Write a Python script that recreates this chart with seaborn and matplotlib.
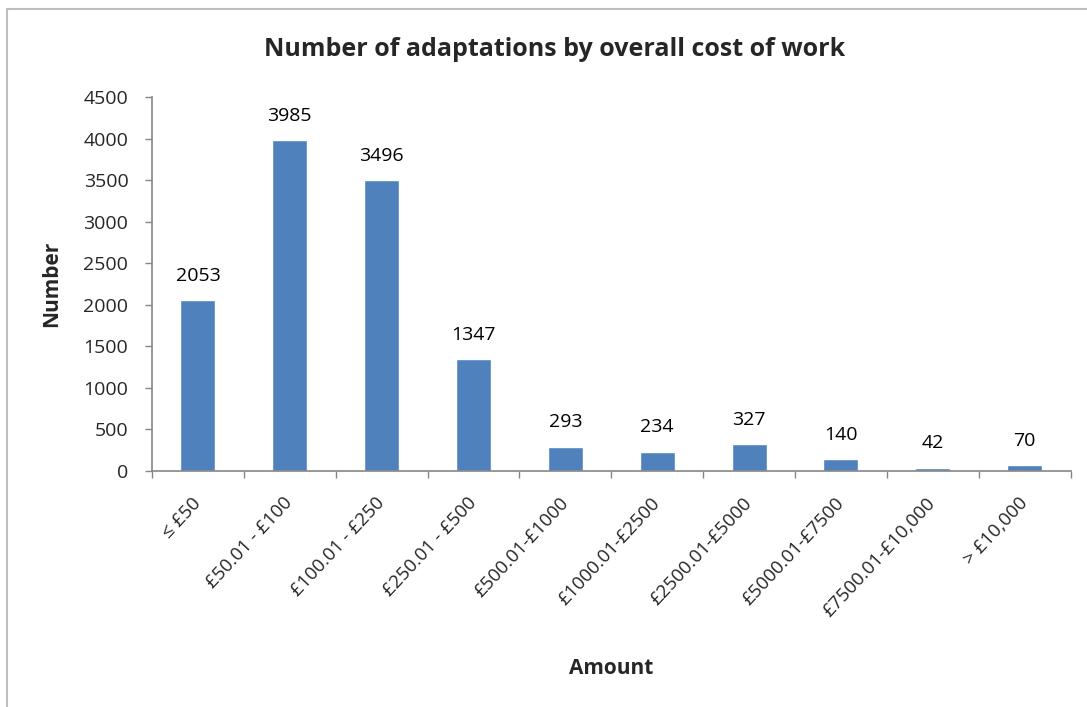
import matplotlib
matplotlib.use("Agg")
import matplotlib.pyplot as plt
from matplotlib.lines import Line2D
import seaborn as sns
import pandas as pd

categories = ["≤ £50", "£50.01 - £100", "£100.01 - £250", "£250.01 - £500",
              "£500.01-£1000", "£1000.01-£2500", "£2500.01-£5000",
              "£5000.01-£7500", "£7500.01-£10,000", "> £10,000"]
values = [2053, 3985, 3496, 1347, 293, 234, 327, 140, 42, 70]
y_ticks = [0, 500, 1000, 1500, 2000, 2500, 3000, 3500, 4000, 4500]

sns.set_theme(style="white")
plt.rcParams['font.family'] = ['Open Sans', 'DejaVu Sans']

df = pd.DataFrame({"Amount": categories, "Number": values})

fig = plt.figure(figsize=(10.87, 7.07), dpi=100)
ax = fig.add_axes([0.1398, 0.3338, 0.8451, 0.529])

sns.barplot(data=df, x="Amount", y="Number", color="#4F81BD", width=0.38,
            saturation=1, ax=ax)

ax.set_ylim(0, 4500)
ax.set_xlim(-0.5, len(categories) - 0.5)
ax.set_yticks(y_ticks)
ax.set_yticklabels([str(t) for t in y_ticks], fontsize=14)

# x ticks at category boundaries, labels at centres
ax.set_xticks([i - 0.5 for i in range(len(categories) + 1)], minor=False)
ax.set_xticklabels([])
ax.set_xticks(range(len(categories)), minor=True)
ax.set_xticklabels(categories, minor=True, rotation=47, ha="right", va="center",
                   rotation_mode="anchor", fontsize=13.5)
ax.tick_params(axis="x", which="minor", length=0, pad=21)
ax.tick_params(axis="x", which="major", length=5, width=1, color="#868686",
               direction="out", bottom=True)
ax.tick_params(axis="y", length=5, width=1, color="#868686", direction="out",
               left=True, pad=12)

for s in ["top", "right"]:
    ax.spines[s].set_visible(False)
for s in ["left", "bottom"]:
    ax.spines[s].set_color("#868686")
    ax.spines[s].set_linewidth(1.2)

for i, v in enumerate(values):
    ax.annotate(str(v), (i, v), xytext=(0, 11), textcoords="offset points",
                ha="center", va="bottom", fontsize=14, color="black")

ax.set_xlabel("Amount", fontsize=15, fontweight="bold")
ax.set_ylabel("Number", fontsize=15, fontweight="bold")
ax.xaxis.set_label_coords(0.5, -0.50)
ax.yaxis.set_label_coords(-0.098, 0.5)

fig.text(0.51, 0.930, "Number of adaptations by overall cost of work",
         ha="center", va="center", fontsize=18, fontweight="bold")

# outer frame lines (top and left)
fig.add_artist(Line2D([7 / 1087, 1.0], [1 - 9 / 707, 1 - 9 / 707],
                      transform=fig.transFigure, color="#BFBFBF", lw=1.5))
fig.add_artist(Line2D([7 / 1087, 7 / 1087], [1 - 9 / 707, 0.0],
                      transform=fig.transFigure, color="#BFBFBF", lw=1.5))

fig.savefig("out.png", dpi=100)
